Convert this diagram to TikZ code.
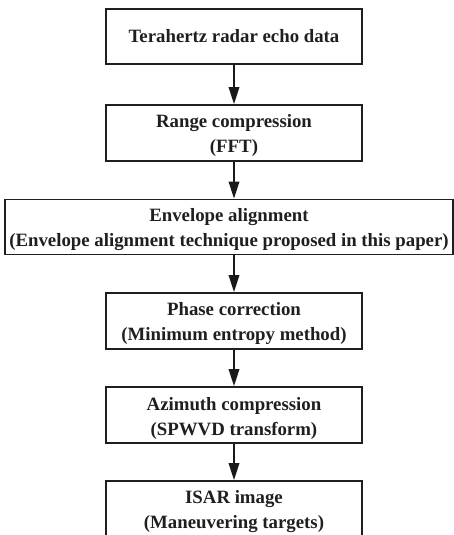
\documentclass[tikz,border=0pt]{standalone}
\usepackage{fontspec}
\setmainfont{Liberation Serif}
\usetikzlibrary{arrows.meta}
\newcommand{\firstlinestrut}{\rule{0pt}{19pt}}
\begin{document}
\begin{tikzpicture}[x=1pt,y=1pt,
  stepbox/.style={draw=black!88,line width=1.8pt,fill=white,minimum height=55pt,
    inner sep=0pt,align=center,font=\bfseries\fontsize{18.8}{25}\selectfont,text=black!88},
  flow/.style={draw=black!90,line width=1.8pt,-{Triangle[length=17pt,width=10.5pt]}}]
\useasboundingbox (0,0) rectangle (454,-535);
\clip (0,0) rectangle (454,-535);
\node[stepbox,minimum width=256pt] (b1) at (234,-36.5) {Terahertz radar echo data};
\node[stepbox,minimum width=256pt,minimum height=56pt] (b2) at (234,-133) {\firstlinestrut Range compression\\(FFT)};
\node[stepbox,minimum width=448pt] (b3) at (229,-227) {\firstlinestrut Envelope alignment\\(Envelope alignment technique proposed in this paper)};
\node[stepbox,minimum width=256pt,minimum height=56pt] (b4) at (234,-321) {\firstlinestrut Phase correction\\(Minimum entropy method)};
\node[stepbox,minimum width=256pt,minimum height=56pt] (b5) at (234,-415) {\firstlinestrut Azimuth compression\\(SPWVD transform)};
\node[stepbox,minimum width=256pt] (b6) at (234,-508.5) {\firstlinestrut ISAR image\\(Maneuvering targets)};
\draw[flow] (b1.south) -- (b2.north);
\draw[flow] (b2.south) -- (b2.south |- b3.north);
\draw[flow] (b4.north |- b3.south) -- (b4.north);
\draw[flow] (b4.south) -- (b5.north);
\draw[flow] (b5.south) -- (b6.north);
\end{tikzpicture}
\end{document}
